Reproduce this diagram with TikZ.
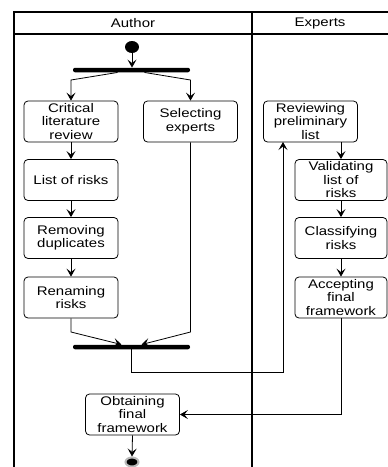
\documentclass[tikz,border=0pt]{standalone}
\usepackage{fontspec}
\setmainfont[FakeStretch=1.2]{Liberation Sans}
\usetikzlibrary{arrows.meta,
                shapes.geometric}

\tikzset{
    act/.style={draw, line width=0.8pt, rounded corners=4pt, minimum width=94pt,
                minimum height=41pt, inner sep=0pt, align=center,
                font=\fontsize{12.5}{13.5}\selectfont},
    syncbar/.style={fill=black, rounded corners=2pt, minimum width=117pt,
                minimum height=4.5pt, inner sep=0pt},
    flow/.style={-{Stealth[length=8pt,width=9pt,inset=3.5pt]}, line width=0.8pt},
    lane/.style={line width=1.2pt},
}

\begin{document}
\begin{tikzpicture}[x=1pt, y=-1pt]
    \useasboundingbox (0,0) rectangle (388,467);

    % swimlanes
    \draw[lane] (14,467) -- (14,12) -- (388,12);
    \draw[lane] (14,34) -- (388,34);
    \draw[lane] (252,12) -- (252,467);
    \node[font=\fontsize{12.5}{13.5}\selectfont] (author) at (133,23) {Author};
    \node[font=\fontsize{12.5}{13.5}\selectfont] (experts) at (320,23) {Experts};

    \node[ellipse, fill=black, minimum width=14pt, minimum height=12pt, inner sep=0pt] (start) at (132,47) {};
    \node[syncbar] (fork) at (131.5,70) {};

    \node[act] (crit) at (71,121.5) {Critical\\literature\\review};
    \node[act] (select) at (190.5,121.5) {Selecting\\experts};
    \node[act] (list) at (71,180) {List of risks};
    \node[act] (remove) at (71,238) {Removing\\duplicates};
    \node[act] (rename) at (71,297.5) {Renaming\\risks};

    \node[act] (review) at (310.5,121.5) {Reviewing\\preliminary\\list};
    \node[act, minimum width=92pt] (valid) at (341,180) {Validating\\list of\\risks};
    \node[act, minimum width=92pt] (classify) at (341,238) {Classifying\\risks};
    \node[act, minimum width=92pt] (accept) at (341,297.5) {Accepting\\final\\framework};

    \node[syncbar] (join) at (131.5,347) {};
    \node[act] (obtain) at (132.5,414.5) {Obtaining\\final\\framework};
    \node[ellipse, fill=black, draw=gray!55, line width=2pt, minimum width=13pt, minimum height=9pt, inner sep=0pt] (finish) at (132,462) {};

    \draw[flow] (start.south) -- (start.south |- fork.north);
    \draw[flow] ([xshift=-14pt]fork.south) -- (crit.north |- 0,80) -- (crit.north);
    \draw[flow] ([xshift=13pt]fork.south) -- (select.north |- 0,80) -- (select.north);

    \draw[flow] (crit) -- (list);
    \draw[flow] (list) -- (remove);
    \draw[flow] (remove) -- (rename);
    \draw[flow] (rename.south) -- (rename.south |- 0,332) -- ([xshift=-10pt]join.north);
    \draw[flow] (select.south) -- (select.south |- 0,332) -- ([xshift=10pt]join.north);

    \draw[flow] (join.south) -- (131.5,372) -- (283,372) -- (283,142);
    \draw[flow] (review.south -| valid.north) -- (valid.north);
    \draw[flow] (valid) -- (classify);
    \draw[flow] (classify) -- (accept);
    \draw[flow] (accept.south) -- (accept.south |- obtain.east) -- (obtain.east);
    \draw[flow] (obtain.south) -- (finish.north);
\end{tikzpicture}
\end{document}
